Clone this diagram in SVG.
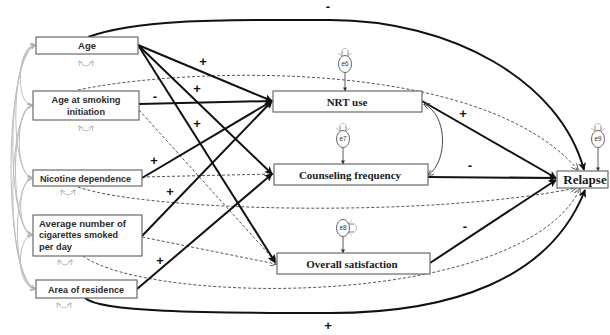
<svg xmlns="http://www.w3.org/2000/svg" width="610" height="335" viewBox="0 0 610 335">
<style>
.box{fill:#fff;stroke:#6a6a6a;stroke-width:1.2}
.lt{font-family:"Liberation Sans",Arial,sans-serif;font-weight:bold;font-size:9.5px;fill:#2a2a2a}
.mt{font-family:"Liberation Serif","Times New Roman",serif;font-weight:bold;font-size:11px;fill:#1a1a1a}
.rt{font-family:"Liberation Serif","Times New Roman",serif;font-weight:bold;font-size:13px;fill:#1a1a1a}
.et{font-family:"Liberation Sans",Arial,sans-serif;font-size:6.5px;fill:#333}
.sg{font-family:"Liberation Sans",Arial,sans-serif;font-weight:bold;font-size:13px;fill:#111}
.sol{fill:none;stroke:#111;stroke-width:2}
.dash{fill:none;stroke:#555;stroke-width:1;stroke-dasharray:3,2}
.cov{fill:none;stroke:#bdbdbd;stroke-width:1}
.err{fill:none;stroke:#333;stroke-width:0.8}
.ell{fill:#fff;stroke:#555;stroke-width:0.9}
</style>
<defs>
<marker id="ah" viewBox="0 0 10 10" refX="9" refY="5" markerWidth="9" markerHeight="8" markerUnits="userSpaceOnUse" orient="auto">
<path d="M0,0 L10,5 L0,10 L2.5,5 Z" fill="#111"/>
</marker>
<marker id="ad" viewBox="0 0 10 10" refX="9" refY="5" markerWidth="7" markerHeight="7" markerUnits="userSpaceOnUse" orient="auto">
<path d="M0,0 L10,5 L0,10" fill="none" stroke="#555" stroke-width="1.3"/>
</marker>
<marker id="as" viewBox="0 0 10 10" refX="9" refY="5" markerWidth="4" markerHeight="4" markerUnits="userSpaceOnUse" orient="auto">
<path d="M0,0 L10,5 L0,10 Z" fill="#333"/>
</marker>
<marker id="ag" viewBox="0 0 10 10" refX="9" refY="5" markerWidth="5" markerHeight="5" markerUnits="userSpaceOnUse" orient="auto-start-reverse">
<path d="M0,0 L10,5 L0,10" fill="none" stroke="#aaa" stroke-width="1.5"/>
</marker>
<marker id="at" viewBox="0 0 10 10" refX="9" refY="5" markerWidth="6" markerHeight="6" markerUnits="userSpaceOnUse" orient="auto-start-reverse">
<path d="M0,0 L10,5 L0,10" fill="none" stroke="#333" stroke-width="1.3"/>
</marker>
</defs>

<g id="connectors">
<!-- covariances among exogenous variables -->
<g id="covariances">
<path class="cov" d="M35,45 C17,45 15,105 32,105" marker-start="url(#ag)" marker-end="url(#ag)"/>
<path class="cov" d="M35,45 C11,50 9,173 32,178" marker-start="url(#ag)" marker-end="url(#ag)"/>
<path class="cov" d="M35,45 C7,55 5,225 32,235" marker-start="url(#ag)" marker-end="url(#ag)"/>
<path class="cov" d="M35,45 C3,60 3,275 35,289" marker-start="url(#ag)" marker-end="url(#ag)"/>
<path class="cov" d="M32,105 C15,108 15,175 32,178" marker-start="url(#ag)" marker-end="url(#ag)"/>
<path class="cov" d="M32,105 C10,112 10,228 32,235" marker-start="url(#ag)" marker-end="url(#ag)"/>
<path class="cov" d="M32,105 C6,115 6,280 35,289" marker-start="url(#ag)" marker-end="url(#ag)"/>
<path class="cov" d="M32,178 C17,181 17,232 32,235" marker-start="url(#ag)" marker-end="url(#ag)"/>
<path class="cov" d="M32,178 C12,184 12,284 35,289" marker-start="url(#ag)" marker-end="url(#ag)"/>
<path class="cov" d="M32,235 C16,238 16,286 35,289" marker-start="url(#ag)" marker-end="url(#ag)"/>
<!-- small variance loops -->
<path class="cov" d="M79,61 Q86,71 93,61" marker-start="url(#ag)" marker-end="url(#ag)"/>
<path class="cov" d="M79,126 Q86,136 93,126" marker-start="url(#ag)" marker-end="url(#ag)"/>
<path class="cov" d="M61,190 Q68,200 75,190" marker-start="url(#ag)" marker-end="url(#ag)"/>
<path class="cov" d="M58,260 Q65,270 72,260" marker-start="url(#ag)" marker-end="url(#ag)"/>
<path class="cov" d="M57,303 Q64,313 71,303" marker-start="url(#ag)" marker-end="url(#ag)"/>
<path class="cov" d="M342,56 C338,46 352,46 348,56" marker-start="url(#ag)" marker-end="url(#ag)"/>
<path class="cov" d="M340,131 C336,121 350,121 346,131" marker-start="url(#ag)" marker-end="url(#ag)"/>
<path class="cov" d="M349,224 C359,220 359,236 349,232" marker-start="url(#ag)" marker-end="url(#ag)"/>
<path class="cov" d="M595,131 C591,121 605,121 601,131" marker-start="url(#ag)" marker-end="url(#ag)"/>
</g>
<!-- error arrows -->
<path class="err" d="M345,73 L345,91" marker-end="url(#as)"/>
<path class="err" d="M343,148 L343,164" marker-end="url(#as)"/>
<path class="err" d="M343,237 L343,253" marker-end="url(#as)"/>
<path class="err" d="M598,148 L598,171" marker-end="url(#as)"/>

<!-- dashed (non-significant) paths -->
<path class="dash" d="M139,110 L276,262" marker-end="url(#ad)"/>
<path class="dash" d="M142,177 L273,174" marker-end="url(#ad)"/>
<path class="dash" d="M142,237 L276,264" marker-end="url(#ad)"/>
<path class="dash" d="M78,90 C180,68 480,55 578,170" marker-end="url(#ad)"/>
<path class="dash" d="M78,187 C150,212 430,218 576,188" marker-end="url(#ad)"/>
<path class="dash" d="M83,256 C150,305 520,310 580,189" marker-end="url(#ad)"/>

<!-- significant paths -->
<path class="sol" d="M138,45 L272,101" marker-end="url(#ah)"/>
<path class="sol" d="M138,45 L272,174" marker-end="url(#ah)"/>
<path class="sol" d="M138,45 L275,262" marker-end="url(#ah)"/>
<path class="sol" d="M139,104 L272,101" marker-end="url(#ah)"/>
<path class="sol" d="M142,178 L272,101" marker-end="url(#ah)"/>
<path class="sol" d="M142,236 L272,101" marker-end="url(#ah)"/>
<path class="sol" d="M137,289 L272,174" marker-end="url(#ah)"/>
<path class="sol" d="M422,101 L556,178" marker-end="url(#ah)"/>
<path class="sol" d="M428,177 L556,178" marker-end="url(#ah)"/>
<path class="sol" d="M430,263 L556,180" marker-end="url(#ah)"/>
<path class="sol" d="M88,37 C140,18 230,20 330,20 C450,20 560,80 584,170" marker-end="url(#ah)"/>
<path class="sol" d="M85,298 C100,312 200,313 330,313 C450,313 550,280 585,190" marker-end="url(#ah)"/>
<path d="M424,104 C448,115 448,162 428,175" fill="none" stroke="#333" stroke-width="0.9" marker-start="url(#at)" marker-end="url(#at)"/>
</g>

<g id="labels">
<text class="sg" x="203" y="65.5" text-anchor="middle">+</text>
<text class="sg" x="197" y="92.5" text-anchor="middle">+</text>
<text class="sg" x="155" y="101" text-anchor="middle">-</text>
<text class="sg" x="197" y="127.5" text-anchor="middle">+</text>
<text class="sg" x="154" y="164.5" text-anchor="middle">+</text>
<text class="sg" x="170" y="195.5" text-anchor="middle">+</text>
<text class="sg" x="160" y="264.5" text-anchor="middle">+</text>
<text class="sg" x="463" y="117.5" text-anchor="middle">+</text>
<text class="sg" x="470" y="170" text-anchor="middle">-</text>
<text class="sg" x="465" y="231" text-anchor="middle">-</text>
<text class="sg" x="328" y="11" text-anchor="middle">-</text>
<text class="sg" x="328" y="329.5" text-anchor="middle">+</text>
</g>

<g id="age">
<rect class="box" x="36" y="37" width="102" height="17"/>
<text class="lt" x="87" y="49" text-anchor="middle">Age</text>
</g>
<g id="age-initiation">
<rect class="box" x="33" y="91" width="106" height="29"/>
<text class="lt" x="86" y="103" text-anchor="middle" textLength="69" lengthAdjust="spacingAndGlyphs">Age at smoking</text>
<text class="lt" x="86" y="115" text-anchor="middle" textLength="38" lengthAdjust="spacingAndGlyphs">initiation</text>
</g>
<g id="nicotine">
<rect class="box" x="33" y="170" width="109" height="16"/>
<text class="lt" x="40" y="181.5" textLength="91" lengthAdjust="spacingAndGlyphs">Nicotine dependence</text>
</g>
<g id="cigarettes">
<rect class="box" x="33" y="215" width="109" height="41"/>
<text class="lt" x="39" y="226.5" textLength="87" lengthAdjust="spacingAndGlyphs">Average number of</text>
<text class="lt" x="39" y="238" textLength="79" lengthAdjust="spacingAndGlyphs">cigarettes smoked</text>
<text class="lt" x="39" y="249.5" textLength="33" lengthAdjust="spacingAndGlyphs">per day</text>
</g>
<g id="residence">
<rect class="box" x="36" y="280" width="101" height="18"/>
<text class="lt" x="86" y="292.5" text-anchor="middle" textLength="76" lengthAdjust="spacingAndGlyphs">Area of residence</text>
</g>

<g id="nrt">
<rect class="box" x="273" y="91" width="149" height="21"/>
<text class="mt" x="347" y="105.5" text-anchor="middle">NRT use</text>
</g>
<g id="counseling">
<rect class="box" x="274" y="164" width="154" height="21"/>
<text class="mt" x="350" y="178.5" text-anchor="middle">Counseling frequency</text>
</g>
<g id="satisfaction">
<rect class="box" x="277" y="253" width="153" height="21"/>
<text class="mt" x="352" y="267.5" text-anchor="middle">Overall satisfaction</text>
</g>
<g id="relapse">
<rect class="box" x="557" y="171" width="51" height="17"/>
<text class="rt" x="585" y="184" text-anchor="middle">Relapse</text>
</g>

<g id="e6"><ellipse class="ell" cx="345" cy="64" rx="6.5" ry="8.5"/><text class="et" x="345" y="66.3" text-anchor="middle">e6</text></g>
<g id="e7"><ellipse class="ell" cx="343" cy="139" rx="6.5" ry="8.5"/><text class="et" x="343" y="141.3" text-anchor="middle">e7</text></g>
<g id="e8"><ellipse class="ell" cx="343" cy="228" rx="6.5" ry="8.5"/><text class="et" x="343" y="230.3" text-anchor="middle">e8</text></g>
<g id="e9"><ellipse class="ell" cx="598" cy="139" rx="6.5" ry="8.5"/><text class="et" x="598" y="141.3" text-anchor="middle">e9</text></g>
</svg>
